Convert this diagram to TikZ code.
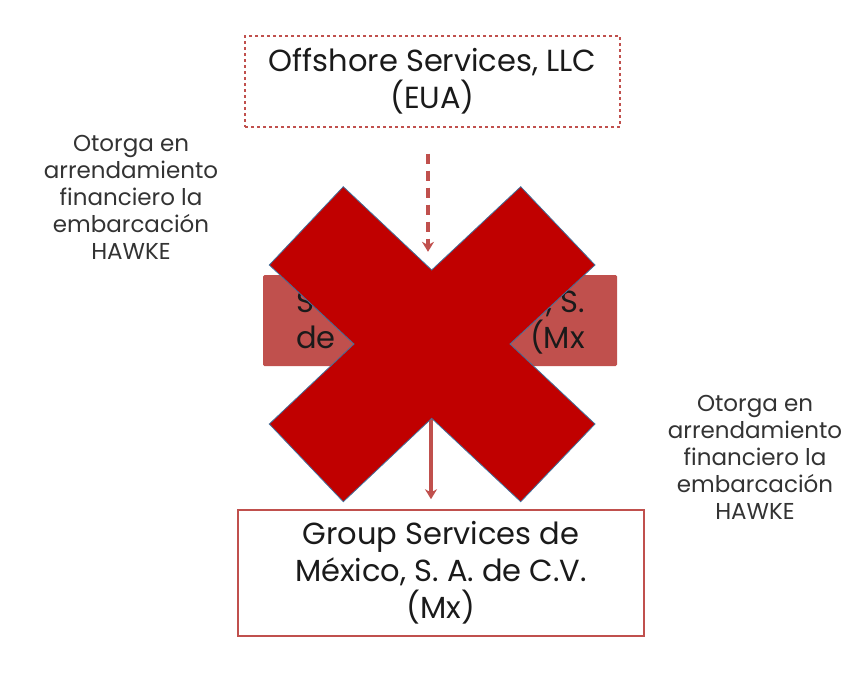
\documentclass[tikz,border=0pt]{standalone}
\usepackage{fontspec}
\setmainfont{Poppins}
\usetikzlibrary{arrows.meta}
\definecolor{boxred}{HTML}{C0504D}
\definecolor{xred}{HTML}{C00000}
\definecolor{xedge}{HTML}{41719C}
\definecolor{txt}{HTML}{1A1A1A}
\definecolor{side}{HTML}{333333}
\begin{document}
\begin{tikzpicture}[x=1pt,y=-1pt,
  entity/.style={align=center, text=txt, font=\fontsize{30.5}{37}\selectfont, inner sep=0pt},
  sidelabel/.style={align=center, text=side, font=\fontsize{23}{27}\selectfont},
  link/.style={draw=boxred, line width=3.2pt, -{Stealth[length=10pt,width=12pt]}}]
\useasboundingbox (0,0) rectangle (848,689);
% boxes
\node[entity, draw=boxred, dashed, line width=1.2pt, minimum width=375pt, minimum height=91pt] (top) at (432.5,81.5) {Offshore Services, LLC\\(EUA)};
\node[fill=boxred, rounded corners=1.5pt, minimum width=354pt, minimum height=91pt, inner sep=0pt] (mid) at (440,320.5) {};
\node[entity, anchor=base west] (m1) at (296,312) {S};
\node[entity, anchor=base east] (m2) at (585,312) {, S.};
\node[entity, anchor=base west] (m3) at (296,348) {de};
\node[entity, anchor=base east] (m4) at (585,348) {(Mx};
\node[entity, draw=boxred, line width=1.6pt, minimum width=406pt, minimum height=126pt] (bot) at (441,573) {Group Services de\\México, S. A. de C.V.\\(Mx)};
% side labels
\node[sidelabel] (lab1) at (131,197) {Otorga en\\arrendamiento\\financiero la\\embarcación\\HAWKE};
\node[sidelabel] (lab2) at (755,457) {Otorga en\\arrendamiento\\financiero la\\embarcación\\HAWKE};
% connectors
\draw[link, dashed, dash pattern=on 10pt off 7pt, shorten <=26pt, shorten >=23pt] (top.south -| 428,0) -- (mid.north -| 428,0);
\draw[link, shorten >=10pt] (mid.south -| 431,0) -- (bot.north -| 431,0);
% cross
\filldraw[fill=xred, draw=xedge, line width=0.8pt]
  (343.3,186.7) -- (431.7,270) -- (520.7,186.7) -- (595,265) -- (510,344) -- (595,424) -- (520.7,501.7) -- (431.7,418.3) -- (343.3,501.7) -- (269.3,424) -- (354,344) -- (269.3,265) -- cycle;
\end{tikzpicture}
\end{document}
